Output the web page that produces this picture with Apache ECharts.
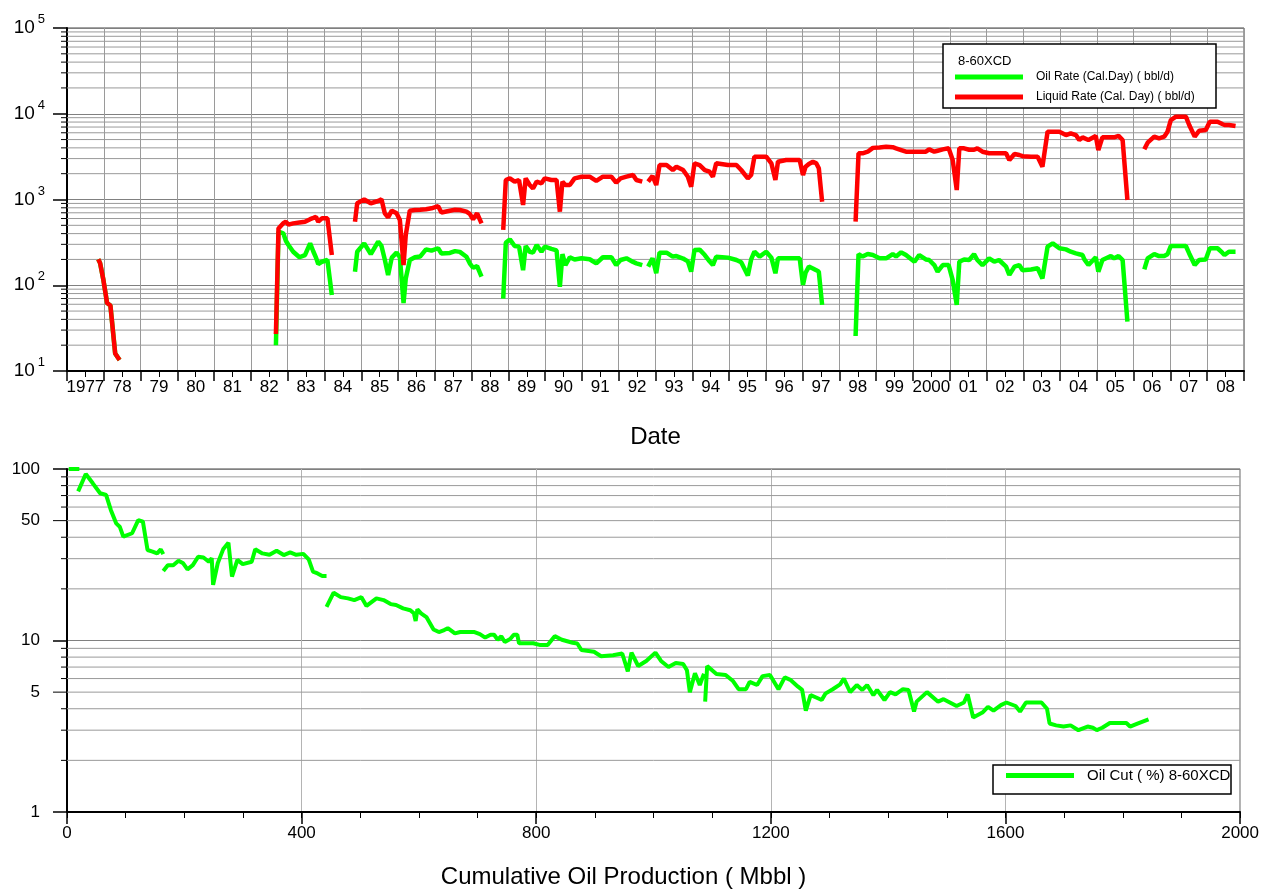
<!DOCTYPE html>
<html><head><meta charset="utf-8">
<script src="https://cdn.jsdelivr.net/npm/echarts@6/dist/echarts.min.js"></script>
<style>html,body{margin:0;padding:0;background:#fff}#c{width:1262px;height:893px}</style>
</head><body><div id="c"></div>
<script>
// ---------------- DATA ----------------
const yearLabels = ['1977','78','79','80','81','82','83','84','85','86','87','88','89','90','91','92','93','94','95','96','97','98','99','2000','01','02','03','04','05','06','07','08'];

const rateDates = [
 1977.85,1977.90,1977.99,1978.09,1978.18,1978.31,1978.43, 1980,
 1982.68,1982.75,1982.88,1982.95,1983.02,1983.15,1983.32,1983.47,1983.61,1983.70,1983.77,1983.83,1983.93,1984.08,1984.20, 1984.5,
 1984.83,1984.89,1985.08,1985.26,1985.46,1985.55,1985.64,1985.73,1985.83,1985.96,1986.05,1986.15,1986.21,1986.32,1986.46,1986.60,1986.76,1986.91,1987.09,1987.18,1987.41,1987.55,1987.68,1987.86,1987.95,1988.04,1988.15,1988.27, 1988.5,
 1988.86,1988.93,1989.04,1989.17,1989.29,1989.40,1989.47,1989.58,1989.67,1989.77,1989.90,1989.99,1990.17,1990.31,1990.40,1990.47,1990.55,1990.67,1990.80,1990.99,1991.21,1991.39,1991.57,1991.80,1991.93,1992.05,1992.21,1992.39,1992.48,1992.64, 1992.72,
 1992.80,1992.92,1993.02,1993.11,1993.30,1993.47,1993.57,1993.75,1993.88,1993.97,1994.06,1994.20,1994.34,1994.47,1994.56,1994.65,1994.97,1995.20,1995.33,1995.51,1995.60,1995.69,1995.83,1996.01,1996.15,1996.26,1996.33,1996.55,1996.92,1997.01,1997.08,1997.17,1997.28,1997.37,1997.44,1997.53, 1998.0,
 1998.44,1998.52,1998.63,1998.77,1998.91,1999.09,1999.27,1999.45,1999.54,1999.68,1999.81,2000.04,2000.17,2000.35,2000.44,2000.58,2000.67,2000.81,2000.97,2001.08,2001.19,2001.26,2001.39,2001.53,2001.66,2001.75,2001.89,2002.07,2002.21,2002.34,2002.53,2002.62,2002.76,2002.89,2002.98,2003.21,2003.39,2003.52,2003.66,2003.80,2003.98,2004.16,2004.29,2004.43,2004.52,2004.61,2004.66,2004.77,2004.97,2005.04,2005.15,2005.38,2005.47,2005.59,2005.70,2005.83, 2006.0,
 2006.29,2006.38,2006.56,2006.69,2006.83,2006.92,2007.01,2007.15,2007.42,2007.51,2007.66,2007.78,2007.96,2008.07,2008.28,2008.41,2008.47,2008.59,2008.77
];

const oilRate = [
 201,181,115,62,58,16,13.4, null,
 20,421,403,330,295,246,212,225,308,246,210,177,188,197,77, null,
 144,246,308,231,322,287,200,132,210,240,212,62,120,197,212,216,262,253,270,235,238,250,245,215,180,160,167,126, null,
 70,313,343,287,282,150,287,245,240,295,246,282,265,255,96,231,172,212,200,206,201,180,212,212,172,197,206,187,180,172, null,
 165,206,138,240,240,216,219,205,190,144,258,260,225,190,172,215,210,197,185,130,200,246,216,246,210,138,206,206,206,101,140,165,157,150,144,59, null,
 25.6,231,216,231,225,206,206,231,216,242,225,188,225,200,197,172,144,172,172,115,59,188,200,197,231,197,172,206,188,197,165,132,165,172,150,153,158,120,282,308,270,262,246,235,230,225,200,172,212,144,197,219,206,219,197,37.6, null,
 153,206,231,219,219,230,287,287,287,235,172,197,200,270,270,240,225,246,246
];

const liquidRate = [
 201,181,115,62,58,16,13.4, null,
 27,460,530,551,510,527,540,550,590,610,627,551,604,604,225, null,
 551,904,1000,904,960,1004,690,620,740,690,575,172,385,740,754,760,769,790,835,705,740,760,754,721,680,588,690,527, null,
 441,1687,1766,1614,1687,863,1766,1475,1349,1614,1545,1766,1687,1687,721,1614,1475,1475,1766,1845,1845,1650,1845,1845,1572,1766,1845,1932,1687,1614, null,
 1614,1880,1475,2524,2524,2207,2412,2207,1845,1409,2643,2524,2207,2109,1845,2643,2524,2524,2207,1766,1932,3155,3155,3155,2643,1687,2761,2891,2891,1932,2412,2600,2761,2643,2312,942, null,
 551,3459,3459,3609,4000,4050,4130,4070,3950,3773,3609,3609,3609,3609,3845,3609,3700,3845,3951,2891,1291,3951,3951,3800,3800,3951,3609,3459,3459,3459,3459,2891,3394,3303,3200,3155,3155,2412,6180,6180,6180,5649,5917,5649,4941,5300,5407,4941,5508,3773,5311,5311,5311,5508,4941,986, null,
 3845,4600,5407,5170,5407,6180,8450,9240,9240,7394,5407,6340,6455,8070,8070,7585,7400,7394,7195
];

const cumOil = [
 3,9,14,18,21, 20,
 19,32,44,56.5,66.8,74.7,83.8,89.9,96,111,121.5,129.4,137.3,145.8,153.7,159.8,164.1, 164.1,
 164.1,171.9,181.1,190.1,198.1,205.4,214.5,223.6,232.7,241.8,246.7,249.1,257,266.2,275.2,281.3,290.5,299.6,314.9,320.9,333.1,345.2,357.4,369.5,380.5,390.8,402.9,412.1,419.4,427.2,435.2,442.5, 442.5,
 442.5,454.6,466.7,478.9,489.8,502,510.6,527.6,539.7,551.8,561,573,585.3,591.4,594.4,597.4,603.6,612.7,624.9,634,643.1,649.2,661.3,670.5,694.8,703.9,713,722.1,728.2,734.3,740.4,746.4,755.6,761.7,767.7,770.7,783,795,807.1,819.4,831.5,843.7,862,870,877,898.4,910.6,931,946.6,956.1,962.4,973.8,987.6,1003.2,1012.8,1025.4,1037.9,1050.5,1056.9,1061.9,1070.6,1078.8,1086, 1087,
 1088,1091.4,1107.2,1122.9,1135.5,1145,1157.6,1163.9,1176.5,1185.9,1198.5,1213,1223.7,1233.2,1245.8,1253.3,1259.6,1267.8,1277.3,1286.7,1292.9,1305.5,1318.1,1324.4,1335.2,1346.5,1355.9,1364.1,1374.8,1381.1,1393.7,1403.2,1412.6,1425.2,1434.7,1444.1,1448.5,1466.2,1485.1,1494.5,1516.6,1529.2,1535.5,1544.9,1560.7,1570.1,1579.6,1592.2,1601.6,1617.2,1624.8,1634.9,1661.4,1670.8,1675.2,1686.4,1699,1711,1724.4,1740,1749,1755.7,1765,1777.9,1806.1,1812.4,1825,1843.9
];

const oilCut = [
 100,100,100,100,100, null,
 74,93.5,82.5,72.2,70.5,57.7,48.2,46.1,40.3,42.2,50.4,49.3,33.7,33,32.2,34,31.9, null,
 25.4,27.5,27.5,29.2,28.2,26,27.5,30.8,30.5,28.8,30.2,21.1,28.2,34,37.2,23.6,29.5,27.9,28.8,34,32.2,31.6,33.4,31.5,32.6,31.6,32,29.7,25.2,24.6,23.8,23.8, null,
 15.7,19,17.9,17.6,17.2,17.9,15.9,17.6,17.2,16.3,16.1,15.4,15,14.4,13,15.2,14.4,13.7,11.6,11.2,11.5,11.8,11,11.2,11.2,10.9,10.4,10.8,10.8,10.1,10.6,9.8,10.2,10.8,10.8,9.63,9.63,9.63,9.4,9.4,10.6,10.1,9.7,9.6,8.8,8.6,8.1,8.2,8.4,6.6,8.5,7.1,7.6,8.5,7.6,7.0,7.4,7.3,6.7,5.0,6.44,5.5,6.4, null,
 4.4,7.1,6.38,6.3,5.8,5.2,5.2,5.74,5.5,6.2,6.3,5.2,6.1,5.9,5.4,5.15,3.9,4.8,4.65,4.5,4.9,5.2,5.55,6.0,5.0,5.5,5.15,5.5,4.8,5.15,4.5,5.0,4.85,5.2,5.15,3.85,4.4,5.0,4.4,4.55,4.15,4.35,4.85,3.56,3.8,4.1,3.9,4.2,4.35,4.15,3.85,4.35,4.35,4.0,3.28,3.2,3.15,3.2,3.0,3.15,3.1,3.0,3.1,3.3,3.3,3.15,3.28,3.47
];

// axis decoration values (minor gridlines / ticks)
const topMinorGrid = [20,30,40,50,60,70,80,90,200,300,400,500,600,700,800,900,2000,3000,4000,5000,6000,7000,8000,9000,20000,30000,40000,50000,60000,70000,80000,90000];
const bottomMinorGrid = [2,3,4,6,7,8,9,20,30,40,60,70,80,90];
const bottomExtraMajor = [5,50];

const oilName = 'Oil Rate (Cal.Day) ( bbl/d)';
const liquidName = 'Liquid Rate (Cal. Day) ( bbl/d)';
const cutName = 'Oil Cut ( %) 8-60XCD';
const wellName = '8-60XCD';

// ---------------- CHART ----------------
const FF = "'Liberation Sans', Arial, sans-serif";
const chart = echarts.init(document.getElementById('c'), null, {renderer: 'canvas'});

const topX = [1977, 2009];
const botX = [0, 2000];

function minorGridItem(xr, tickLen, labelIt) {
  return function (params, api) {
    const v = api.value(1);
    const p0 = api.coord([xr[0], v]);
    const p1 = api.coord([xr[1], v]);
    const ch = [
      {type: 'line', shape: {x1: p0[0], y1: p0[1], x2: p1[0], y2: p1[1]}, style: {stroke: '#9a9a9a', lineWidth: 1}},
      {type: 'line', shape: {x1: p0[0] - tickLen, y1: p0[1], x2: p0[0], y2: p0[1]}, style: {stroke: '#000', lineWidth: 1}}
    ];
    if (labelIt) {
      ch.push({type: 'text', x: p0[0] - 27, y: p0[1], style: {text: String(v), font: '17px ' + FF, fill: '#000', align: 'right', verticalAlign: 'middle'}});
    }
    return {type: 'group', children: ch};
  };
}

const option = {
  animation: false,
  backgroundColor: '#fff',
  textStyle: {fontFamily: FF},
  grid: [
    {left: 67, top: 28, width: 1177, height: 343, show: true, borderColor: '#444', borderWidth: 1},
    {left: 67, top: 469, width: 1177, height: 343, show: true, borderColor: '#444', borderWidth: 1}
  ],
  xAxis: [
    {gridIndex: 0, type: 'value', min: topX[0], max: topX[1], interval: 1, position: 'bottom',
     axisLine: {show: true, onZero: false, lineStyle: {color: '#000', width: 2}},
     axisTick: {show: true, length: 10, lineStyle: {color: '#000', width: 1.5}},
     minorTick: {show: true, splitNumber: 2, length: 6, lineStyle: {color: '#000', width: 1}},
     axisLabel: {show: false},
     splitLine: {show: true, lineStyle: {color: '#9a9a9a', width: 1}}},
    {gridIndex: 0, type: 'category', data: yearLabels, boundaryGap: true, position: 'bottom',
     axisLine: {show: false}, axisTick: {show: false},
     axisLabel: {interval: 0, fontSize: 17, color: '#000', margin: 8, fontFamily: FF},
     splitLine: {show: false},
     name: 'Date', nameLocation: 'middle', nameGap: 54,
     nameTextStyle: {fontSize: 24, color: '#000', fontFamily: FF}},
    {gridIndex: 1, type: 'value', min: botX[0], max: botX[1], interval: 400, position: 'bottom',
     axisLine: {show: true, onZero: false, lineStyle: {color: '#000', width: 2}},
     axisTick: {show: true, length: 12, lineStyle: {color: '#000', width: 1.5}},
     axisLabel: {fontSize: 17, color: '#000', margin: 13, fontFamily: FF, formatter: function (v) { return String(v); }},
     splitLine: {show: true, lineStyle: {color: '#b4b4b4', width: 1}},
     name: 'Cumulative Oil Production ( Mbbl )', nameLocation: 'middle', nameGap: 53,
     nameTextStyle: {fontSize: 24, color: '#000', fontFamily: FF, padding: [0, 60, 0, 0]}},
    {gridIndex: 1, type: 'value', min: botX[0], max: botX[1], interval: 100, position: 'bottom',
     axisLine: {show: false}, axisTick: {show: true, length: 6, lineStyle: {color: '#000', width: 1}},
     axisLabel: {show: false}, splitLine: {show: false}}
  ],
  yAxis: [
    {gridIndex: 0, type: 'log', logBase: 10, min: 10, max: 100000,
     axisLine: {show: true, onZero: false, lineStyle: {color: '#000', width: 2}},
     axisTick: {show: true, length: 14, lineStyle: {color: '#000', width: 1.5}},
     axisLabel: {margin: 22, color: '#000',
       formatter: function (v) { return '{b|10}{s|' + Math.round(Math.log10(v)) + '}'; },
       rich: {b: {fontSize: 19, lineHeight: 30, fontFamily: FF, color: '#000'},
              s: {fontSize: 13, lineHeight: 12, verticalAlign: 'top', fontFamily: FF, color: '#000', padding: [0, 0, 0, 3]}}},
     splitLine: {show: true, lineStyle: {color: '#808080', width: 1}}},
    {gridIndex: 1, type: 'log', logBase: 10, min: 1, max: 100,
     axisLine: {show: true, onZero: false, lineStyle: {color: '#000', width: 2}},
     axisTick: {show: true, length: 14, lineStyle: {color: '#000', width: 1.5}},
     axisLabel: {margin: 27, fontSize: 17, color: '#000', fontFamily: FF},
     splitLine: {show: true, lineStyle: {color: '#808080', width: 1}}}
  ],
  legend: [
    {data: [oilName, liquidName], orient: 'vertical', left: 950, top: 66, icon: 'rect',
     itemWidth: 68, itemHeight: 5, itemGap: 8, selectedMode: false, z: 6,
     textStyle: {fontSize: 12, color: '#000', fontFamily: FF, padding: [0, 0, 0, 8]}},
    {data: [cutName], orient: 'vertical', left: 1001, top: 763, icon: 'rect',
     itemWidth: 68, itemHeight: 5, selectedMode: false, z: 6,
     textStyle: {fontSize: 15, color: '#000', fontFamily: FF, padding: [0, 0, 0, 8]}}
  ],
  graphic: [
    {type: 'rect', z: 5, shape: {x: 943, y: 44, width: 273, height: 64}, style: {fill: '#fff', stroke: '#000', lineWidth: 1.5}},
    {type: 'text', z: 6, x: 958, y: 61, style: {text: wellName, font: '13px ' + FF, fill: '#000', verticalAlign: 'middle'}},
    {type: 'rect', z: 5, shape: {x: 993, y: 765, width: 238, height: 29}, style: {fill: '#fff', stroke: '#000', lineWidth: 1.5}}
  ],
  series: [
    {type: 'custom', name: 'topMinor', xAxisIndex: 0, yAxisIndex: 0, z: 1, silent: true, clip: false,
     data: topMinorGrid.map(v => [topX[0], v]), renderItem: minorGridItem(topX, 6, false)},
    {type: 'custom', name: 'botMinor', xAxisIndex: 2, yAxisIndex: 1, z: 1, silent: true, clip: false,
     data: bottomMinorGrid.map(v => [botX[0], v]), renderItem: minorGridItem(botX, 6, false)},
    {type: 'custom', name: 'botMajor', xAxisIndex: 2, yAxisIndex: 1, z: 1, silent: true, clip: false,
     data: bottomExtraMajor.map(v => [botX[0], v]), renderItem: minorGridItem(botX, 14, true)},
    {type: 'line', name: oilName, xAxisIndex: 0, yAxisIndex: 0, z: 3,
     data: rateDates.map((d, i) => [d, oilRate[i]]), showSymbol: false, symbol: 'none', connectNulls: false,
     color: '#00ff00', lineStyle: {color: '#00ff00', width: 4.5}},
    {type: 'line', name: liquidName, xAxisIndex: 0, yAxisIndex: 0, z: 4,
     data: rateDates.map((d, i) => [d, liquidRate[i]]), showSymbol: false, symbol: 'none', connectNulls: false,
     color: '#ff0000', lineStyle: {color: '#ff0000', width: 4.5}},
    {type: 'line', name: cutName, xAxisIndex: 2, yAxisIndex: 1, z: 3,
     data: cumOil.map((c, i) => [c, oilCut[i]]), showSymbol: false, symbol: 'none', connectNulls: false,
     color: '#00ff00', lineStyle: {color: '#00ff00', width: 4}}
  ]
};
chart.setOption(option);
</script>
</body></html>
